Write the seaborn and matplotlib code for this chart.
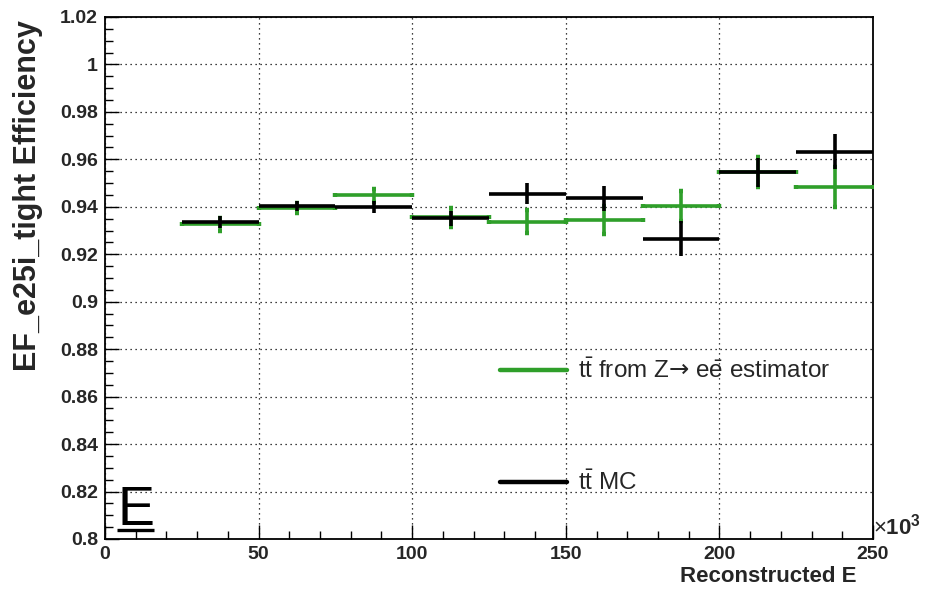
import matplotlib
matplotlib.use("Agg")
import matplotlib.pyplot as plt
from matplotlib.ticker import MultipleLocator, FuncFormatter
from matplotlib.lines import Line2D
import numpy as np
import pandas as pd
import seaborn as sns

# Energy bins (in units of 10^3)
bin_low = [25, 50, 75, 100, 125, 150, 175, 200, 225]
bin_width = 25

# Efficiency from the Z->ee tag-and-probe estimator
eff_est = [0.9326, 0.9396, 0.9449, 0.9355, 0.9337, 0.9344, 0.9404, 0.9547, 0.9484]
err_est = [0.0028, 0.0020, 0.0028, 0.0038, 0.0049, 0.0060, 0.0063, 0.0065, 0.0084]

# Efficiency from ttbar Monte Carlo truth
eff_mc = [0.9335, 0.9403, 0.9400, 0.9351, 0.9456, 0.9436, 0.9265, 0.9546, 0.9633]
err_mc = [0.0025, 0.0020, 0.0025, 0.0033, 0.0046, 0.0053, 0.0074, 0.0061, 0.0074]

label_est = ("$\\mathrm{t\\bar{t}}$ from Z$\\mathsf{\u2192}$ "
             "e$\\mathrm{\\bar{e}}$ estimator")
label_mc = "$\\mathrm{t\\bar{t}}$ MC"

sns.set_theme(style="ticks")
plt.rcParams["font.family"] = ["Liberation Sans", "DejaVu Sans"]
plt.rcParams["mathtext.fontset"] = "custom"
plt.rcParams["mathtext.rm"] = "Liberation Sans"
plt.rcParams["mathtext.bf"] = "Liberation Sans:bold"
plt.rcParams["mathtext.sf"] = "DejaVu Sans"

df = pd.DataFrame({
    "center": np.array(bin_low) + bin_width / 2,
    "eff_est": eff_est, "err_est": err_est,
    "eff_mc": eff_mc, "err_mc": err_mc,
})

fig = plt.figure(figsize=(9.27, 5.95), dpi=100)
ax = fig.add_axes([105 / 927, 1 - 539 / 595, 768 / 927, 522 / 595])

green = "#2f9f2a"
ax.errorbar(df["center"], df["eff_est"], xerr=bin_width / 2, yerr=df["err_est"],
            fmt="none", ecolor=green, elinewidth=2.6, capsize=1.6, capthick=3.2,
            zorder=3)
ax.errorbar(df["center"], df["eff_mc"], xerr=bin_width / 2, yerr=df["err_mc"],
            fmt="none", ecolor="black", elinewidth=2.6, capsize=0, zorder=4)

ax.set_xlim(0, 250)
ax.set_ylim(0.8, 1.02)

ax.xaxis.set_major_locator(MultipleLocator(50))
ax.xaxis.set_minor_locator(MultipleLocator(10))
ax.yaxis.set_major_locator(MultipleLocator(0.02))
ax.yaxis.set_minor_locator(MultipleLocator(0.005))
ax.yaxis.set_major_formatter(FuncFormatter(lambda v, p: f"{v:g}"))

ax.tick_params(which="both", direction="in", top=False, right=False,
               color="black", width=1.0)
ax.tick_params(which="major", length=10, labelsize=14, pad=5)
ax.tick_params(which="minor", length=5.5)
for lab in ax.get_xticklabels() + ax.get_yticklabels():
    lab.set_fontweight("bold")

ax.grid(True, which="major", color="black", linestyle=(0, (1, 3)), linewidth=0.9)
for sp in ax.spines.values():
    sp.set_color("black")
    sp.set_linewidth(1.3)
ax.set_facecolor("white")

ax.set_ylabel("EF_e25i_tight Efficiency", fontsize=22, fontweight="bold",
              loc="top")
ax.yaxis.set_label_coords(-0.081, 0.994)
ax.set_xlabel("Reconstructed E", fontsize=16, fontweight="bold", loc="right")
ax.xaxis.set_label_coords(0.979, -0.052)

ax.text(1.0, 0.0, r"$\times\mathbf{10^{3}}$", transform=ax.transAxes,
        fontsize=16, ha="left", va="bottom")

handles = [Line2D([], [], color=green, lw=3.2), Line2D([], [], color="black", lw=3.2)]
ax.legend(handles, [label_est, label_mc], loc="upper left",
          bbox_to_anchor=(0.502, 0.364), frameon=False, fontsize=17.5,
          handlelength=2.76, handletextpad=0.45, labelspacing=3.6,
          borderaxespad=0)

# Marker glyph in the lower-left corner
ax.text(0.016, 0.027, "E", transform=ax.transAxes, fontsize=40,
        ha="left", va="baseline", color="black")
ax.plot([0.0156, 0.0638], [0.017, 0.017], transform=ax.transAxes, color="black",
        lw=2.4, solid_capstyle="butt")

fig.savefig("out.png", dpi=100, facecolor="white")
